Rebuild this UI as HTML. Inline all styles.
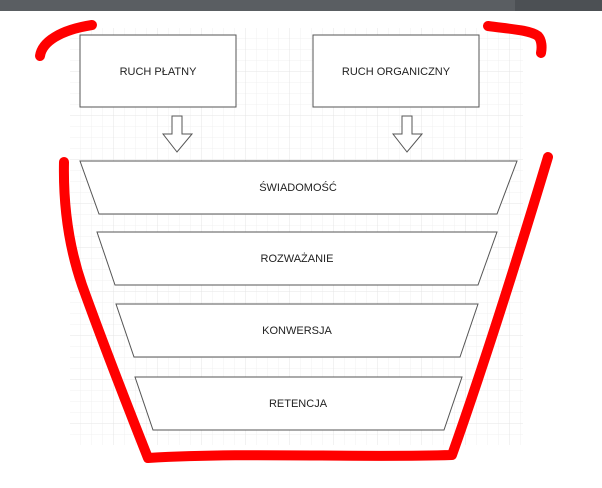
<!DOCTYPE html>
<html><head><meta charset="utf-8"><style>
html,body{margin:0;padding:0;background:#fff;}
svg{display:block;}
text{font-family:"Liberation Sans",sans-serif;font-size:11px;fill:#222;}
</style></head><body>
<svg width="602" height="488" viewBox="0 0 602 488" xmlns="http://www.w3.org/2000/svg">
<defs>
<pattern id="g" x="70" y="28" width="11" height="11" patternUnits="userSpaceOnUse">
<path d="M11 0V11M0 11H11" stroke="#ededed" stroke-width="0.7" fill="none"/>
</pattern>
<pattern id="G" x="70" y="28" width="44" height="44" patternUnits="userSpaceOnUse">
<path d="M44 0V44M0 44H44" stroke="#e2e2e2" stroke-width="0.8" fill="none"/>
</pattern>
</defs>
<rect x="0" y="0" width="602" height="11" fill="#5a5e62"/>
<rect x="515" y="0" width="87" height="11" fill="#4c5054"/>
<rect x="70" y="28" width="453" height="417" fill="url(#g)"/>
<rect x="70" y="28" width="453" height="417" fill="url(#G)"/>
<g fill="#fff" stroke="#555" stroke-width="1">
<rect x="80" y="35" width="156" height="72"/>
<rect x="313" y="35" width="166" height="72"/>
<path d="M172 116H182V134H192L177 152L163 134H172Z"/>
<path d="M402 116H412V134H422L407 152L393 134H402Z"/>
<path d="M80 161H517L497 214H99Z"/>
<path d="M97 232H497L478 285H115Z"/>
<path d="M116 304H478L460 357H134Z"/>
<path d="M135 377H462L444 430H153Z"/>
</g>
<text x="158" y="75" text-anchor="middle">RUCH PŁATNY</text>
<text x="396" y="75" text-anchor="middle">RUCH ORGANICZNY</text>
<text x="298" y="191" text-anchor="middle">ŚWIADOMOŚĆ</text>
<text x="297" y="262" text-anchor="middle">ROZWAŻANIE</text>
<text x="297" y="334" text-anchor="middle">KONWERSJA</text>
<text x="298" y="407" text-anchor="middle">RETENCJA</text>
<g fill="none" stroke="#ff0000" stroke-width="10" stroke-linecap="round" stroke-linejoin="round">
<path d="M40 56C42 42 60 30 92 25"/>
<path d="M488 26C510 29 530 30 538 36C542 40 542 48 541 53"/>
<path d="M64 162C63 210 70 250 82 285C100 335 125 400 148 458C250 452 350 458 452 455C475 390 505 300 548 157"/>
</g>
</svg>
</body></html>
